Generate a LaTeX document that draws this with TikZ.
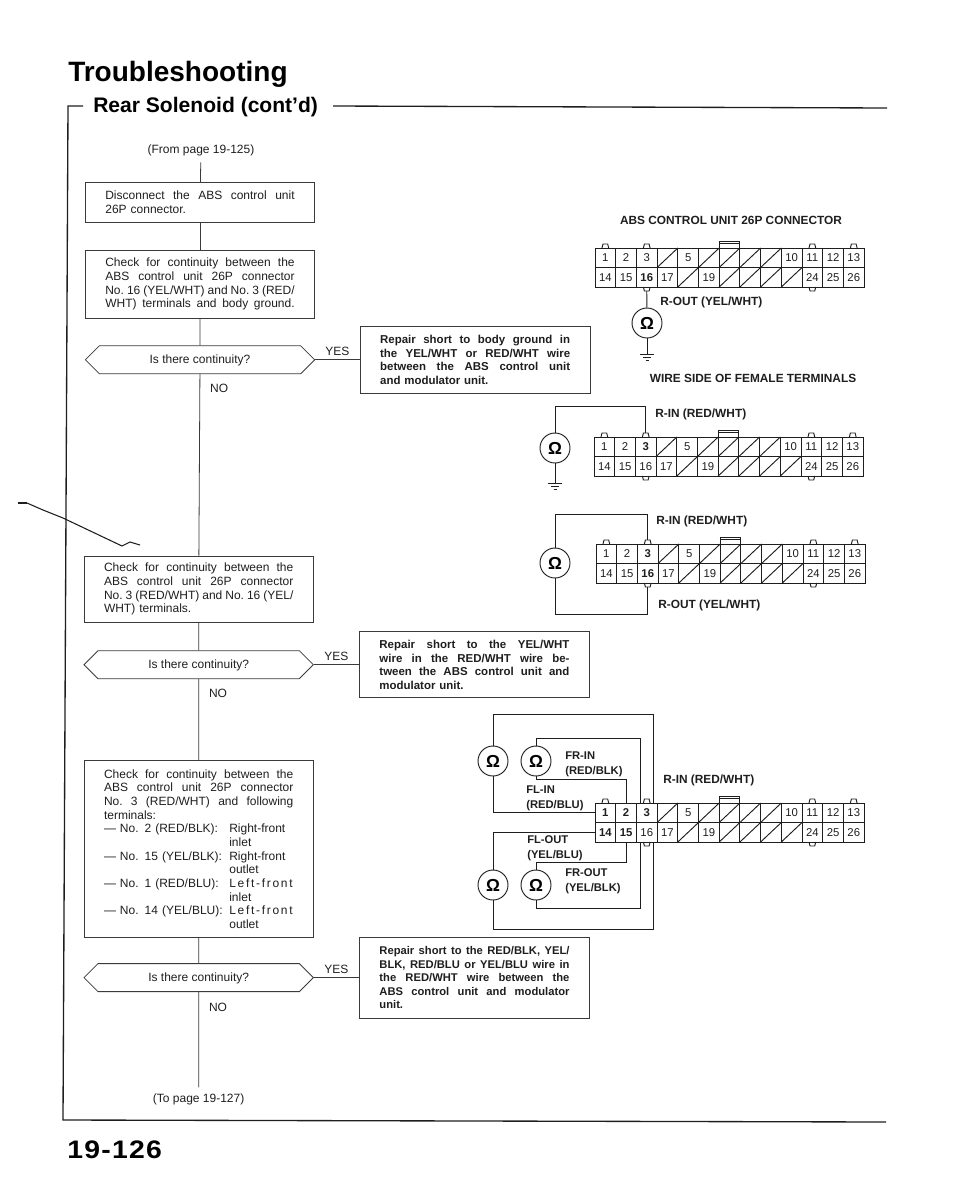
\documentclass[tikz,border=0pt]{standalone}
\usepackage{fontspec}
\setmainfont{Liberation Sans}
\usetikzlibrary{arrows.meta, shapes.misc, positioning, calc}
\definecolor{ink}{HTML}{1E1E1E}
\definecolor{inksoft}{HTML}{3A3A3A}
\tikzset{
  box/.style    = {draw=inksoft, line width=0.6pt, minimum width=172pt,
                   text width=142pt, inner xsep=15pt, inner ysep=0pt,
                   align=left, text=ink, font=\fontsize{9}{10.25}\selectfont},
  repair/.style = {box, anchor=west, minimum width=172.5pt, text width=142.5pt,
                   font=\fontsize{8.6}{10.2}\selectfont\bfseries},
  hexa/.style   = {draw=inksoft, line width=0.6pt, chamfered rectangle,
                   chamfered rectangle xsep=15pt, chamfered rectangle ysep=10.5pt,
                   minimum width=172pt, inner sep=0pt, text height=0pt, text depth=0pt,
                   text=ink, font=\fontsize{9}{10}\selectfont},
  spine/.style  = {draw=inksoft, line width=0.6pt},
  wire/.style   = {draw=ink, line width=0.7pt},
  frame/.style  = {draw=ink, line width=1pt},
  meter/.style  = {circle, draw=ink, line width=0.7pt, minimum size=22.5pt,
                   inner sep=0pt, font=\fontsize{13}{13}\selectfont\bfseries},
  pin/.style    = {minimum width=15.5pt, minimum height=14.25pt, inner sep=0pt,
                   text=ink, font=\fontsize{8.5}{9}\selectfont},
  labl/.style   = {anchor=west, inner sep=0pt, align=left, text=ink,
                   font=\fontsize{8.9}{11.2}\selectfont\bfseries},
  lablsm/.style = {labl, font=\fontsize{8.4}{11.2}\selectfont\bfseries},
  note/.style   = {inner xsep=2pt, inner ysep=4.5pt, text=ink, font=\fontsize{9}{10}\selectfont},
  answer/.style = {inner sep=2pt, text=ink, font=\fontsize{9}{10}\selectfont},
  head/.style   = {anchor=base west, inner sep=0pt, text=black},
}
% one full line of box text
\newcommand{\jl}[1]{\makebox[142pt][s]{\frenchspacing\spaceskip=.25em plus 1fil\relax #1}}
\newcommand{\jr}[1]{\makebox[142.5pt][s]{\frenchspacing\spaceskip=.2em plus 1fil\relax #1}}
% terminal line of the last check box
\newcommand{\tl}[2]{\makebox[94pt][l]{--- #1}\makebox[47.5pt][s]{#2}}
\newcommand{\tc}[1]{\hspace*{94pt}#1}
\newcommand{\asking}{\raisebox{-3pt}{Is there continuity?}}
% 26P connector: name, origin, top row, bottom row
\newcommand{\connector}[4]{
  \begin{scope}[shift={(#2)}]
    \draw[wire] (0,0) rectangle (269,39);
    \draw[wire] (0,19.5) -- (269,19.5);
    \foreach \c in {1,...,12}
      \draw[wire] (\c*20.7,0) -- (\c*20.7,39);
    \foreach \c in {3,5,6,7,8}
      \draw[wire] (\c*20.7,19.5) -- (\c*20.7+20.7,0);
    \foreach \c in {4,6,7,8,9}
      \draw[wire] (\c*20.7,39) -- (\c*20.7+20.7,19.5);
    \draw[wire] (6*20.7,0) -- (6*20.7,-7) -- (7*20.7,-7) -- (7*20.7,0);
    \draw[wire] (6*20.7,-5) -- (7*20.7,-5);
    \foreach \c in {0,2,10,12} {
      \draw[wire] (\c*20.7+7,0) -- (\c*20.7+8,-4) -- (\c*20.7+12.7,-4) -- (\c*20.7+13.7,0);
      \coordinate (#1-n\c) at (\c*20.7+10.35,-4);
    }
    \foreach \c in {2,10} {
      \draw[wire] (\c*20.7+7,39) -- (\c*20.7+8,43) -- (\c*20.7+12.7,43) -- (\c*20.7+13.7,39);
      \coordinate (#1-s\c) at (\c*20.7+10.35,43);
    }
    \foreach[count=\c from 0] \t in {#3}
      \node[pin] (#1-t\c) at (\c*20.7+10.35,9.75) {\t};
    \foreach[count=\c from 0] \t in {#4}
      \node[pin] (#1-b\c) at (\c*20.7+10.35,29.25) {\t};
  \end{scope}
}
% ground symbol hanging under a coordinate
\newcommand{\earth}[1]{
  \draw[wire] ([xshift=-5.5pt]#1) -- ([xshift=5.5pt]#1);
  \draw[wire] ($(#1)+(-4,3)$) -- ($(#1)+(4,3)$);
  \draw[wire] ($(#1)+(-1.5,6)$) -- ($(#1)+(1.5,6)$);
}
\begin{document}
\begin{tikzpicture}[x=0.75pt, y=-0.75pt]
  \useasboundingbox (0,0) rectangle (960,1200);

  % page head
  \node[head, font=\fontsize{21}{21}\selectfont\bfseries] (title) at (68,81) {Troubleshooting};
  \node[head, font=\fontsize{15.8}{16}\selectfont\bfseries] (sub) at (93,112) {Rear Solenoid (cont'd)};
  \draw[frame] (83,106) -- (68,106) -- (63,1120) -- (886,1122);
  \draw[frame] (333,106) -- (887,108);
  \node[head, font=\fontsize{19}{21}\selectfont\bfseries\addfontfeature{FakeStretch=1.12,LetterSpace=5}]
    (page) at (67,1158) {19-126};

  % scan mark
  \draw[ink, line width=0.8pt] (27,503) -- (43,510) -- (63,518) -- (122,546)
    -- (130,542) -- (140,545);
  \draw[ink, line width=2pt] (18,503) -- (27,503);

  % flow
  \node[note] (from) at (201,150.5) {(From page 19-125)};
  \node[box, minimum height=30pt, below=14.8pt of from, xshift=-0.75pt] (disc)
    {\jl{Disconnect the ABS control unit}\\26P connector.};
  \node[box, minimum height=50.5pt, below=20.5pt of disc] (chkA)
    {\jl{Check for continuity between the}\\\jl{ABS control unit 26P connector}\\
     \jl{No. 16 (YEL/WHT) and No. 3 (RED/}\\\jl{WHT) terminals and body ground.}};
  \node[hexa, below=20.25pt of chkA] (askA) {\asking};
  \node[repair, minimum height=50.25pt, right=33.5pt of askA] (repA)
    {\jr{Repair short to body ground in}\\\jr{the YEL/WHT or RED/WHT wire}\\
     \jr{between the ABS control unit}\\and modulator unit.};

  \node[box, minimum height=49.75pt, below=136pt of askA, xshift=-1pt] (chkB)
    {\jl{Check for continuity between the}\\\jl{ABS control unit 26P connector}\\
     \jl{No. 3 (RED/WHT) and No. 16 (YEL/}\\WHT) terminals.};
  \node[hexa, below=20.75pt of chkB] (askB) {\asking};
  \node[repair, minimum height=49.5pt, right=34pt of askB] (repB)
    {\jr{Repair short to the YEL/WHT}\\\jr{wire in the RED/WHT wire be-}\\
     \jr{tween the ABS control unit and}\\modulator unit.};

  \node[box, minimum height=132.75pt, below=60.75pt of askB] (chkC)
    {\jl{Check for continuity between the}\\\jl{ABS control unit 26P connector}\\
     \jl{No. 3 (RED/WHT) and following}\\terminals:\\
     \tl{No. 2 (RED/BLK):}{Right-front}\\\tc{inlet}\\
     \tl{No. 15 (YEL/BLK):}{Right-front}\\\tc{outlet}\\
     \tl{No. 1 (RED/BLU):}{L\hfil e\hfil f\hfil t\hfil -\hfil f\hfil r\hfil o\hfil n\hfil t}\\\tc{inlet}\\
     \tl{No. 14 (YEL/BLU):}{L\hfil e\hfil f\hfil t\hfil -\hfil f\hfil r\hfil o\hfil n\hfil t}\\\tc{outlet}};
  \node[hexa, below=19pt of chkC] (askC) {\asking};
  \node[repair, minimum height=60.75pt, right=34pt of askC,
        font=\fontsize{8.4}{10.2}\selectfont\bfseries] (repC)
    {\jr{Repair short to the RED/BLK, YEL/}\\\jr{BLK, RED/BLU or YEL/BLU wire in}\\
     \jr{the RED/WHT wire between the}\\\jr{ABS control unit and modulator}\\unit.};
  \node[note, below=71.5pt of askC] (to) {(To page 19-127)};

  \foreach \a/\b in {from/disc, disc/chkA, chkA/askA, chkB/askB, chkC/askC}
    \draw[spine] (\a) -- (\b);
  \draw[spine] (askA) -- node[answer, right, pos=0.077, xshift=5.5pt] {NO} (chkB);
  \draw[spine] (askB) -- node[answer, right, pos=0.17, xshift=5.5pt] {NO} (chkC);
  \draw[spine] (askC) -- node[answer, right, pos=0.16, xshift=5.5pt] {NO} (to);
  \foreach \a/\b in {askA/repA, askB/repB, askC/repC}
    \draw[spine] (\a) -- node[answer, above, yshift=1pt] {YES} (\b);

  % connector views
  \connector{cOut}{595,248}{1,2,3,,5,,,,,10,11,12,13}{14,15,\textbf{16},17,,19,,,,,24,25,26}
  \connector{cIn}{594,437}{1,2,\textbf{3},,5,,,,,10,11,12,13}{14,15,16,17,,19,,,,,24,25,26}
  \connector{cPair}{596,544}{1,2,\textbf{3},,5,,,,,10,11,12,13}{14,15,\textbf{16},17,,19,,,,,24,25,26}
  \connector{cAll}{595,803}{\textbf{1},\textbf{2},\textbf{3},,5,,,,,10,11,12,13}{\textbf{14},\textbf{15},16,17,,19,,,,,24,25,26}

  \node[labl, anchor=center] (capA) at (731,220) {ABS CONTROL UNIT 26P CONNECTOR};
  \node[labl, anchor=center] (capB) at (753,378) {WIRE SIDE OF FEMALE TERMINALS};

  % meters
  \node[meter] (mOut) at (647,323) {Ω};
  \coordinate (gOut) at (647,354);
  \draw[wire] (cOut-s2) -- (mOut);
  \draw[wire] (mOut) -- (gOut);
  \earth{gOut}
  \node[labl] (lOut) at (660,302) {R-OUT (YEL/WHT)};

  \node[meter] (mIn) at (555,448) {Ω};
  \coordinate (gIn) at (555,483);
  \draw[wire] (mIn.north) -- ++(0,-26) -| (cIn-n2);
  \draw[wire] (mIn) -- (gIn);
  \earth{gIn}
  \node[labl] (lIn) at (655,414) {R-IN (RED/WHT)};

  \node[meter] (mPair) at (555,563) {Ω};
  \draw[wire] (mPair.north) -- ++(0,-33) -| (cPair-n2);
  \draw[wire] (mPair.south) -- ++(0,36) -| (cPair-s2);
  \node[labl] (lPairA) at (656,521) {R-IN (RED/WHT)};
  \node[labl] (lPairB) at (658,605) {R-OUT (YEL/WHT)};

  \coordinate (inA) at (640,803);
  \coordinate (inB) at (653,803);
  \coordinate (outA) at (640,842);
  \coordinate (outB) at (653,842);
  \node[meter] (mFLin) at (493,761) {Ω};
  \node[meter] (mFRin) at (536,761) {Ω};
  \node[meter] (mFLout) at (493,885) {Ω};
  \node[meter] (mFRout) at (536,885) {Ω};
  \draw[wire] (mFLin.north) -- ++(0,-31) -| (inB);
  \draw[wire] (mFLin.south) |- (cAll-t0.west);
  \draw[wire] (mFRin.north) -- ++(0,-7) -| (inA);
  \draw[wire] (mFRin.south) -- ++(0,3) -| (cAll-t1.north);
  \draw[wire] (mFLout.north) |- (cAll-b0.west);
  \draw[wire] (mFLout.south) -- ++(0,29) -| (outB);
  \draw[wire] (mFRout.north) -- ++(0,-7) -| (cAll-b1.south);
  \draw[wire] (mFRout.south) -- ++(0,8) -| (outA);
  \node[lablsm] (lFRin) at (565,764.5) {FR-IN\\(RED/BLK)};
  \node[lablsm] (lFLin) at (526,798) {FL-IN\\(RED/BLU)};
  \node[lablsm] (lFLout) at (527,848) {FL-OUT\\(YEL/BLU)};
  \node[lablsm] (lFRout) at (565,881.5) {FR-OUT\\(YEL/BLK)};
  \node[labl] (lAll) at (663,780) {R-IN (RED/WHT)};
\end{tikzpicture}
\end{document}
